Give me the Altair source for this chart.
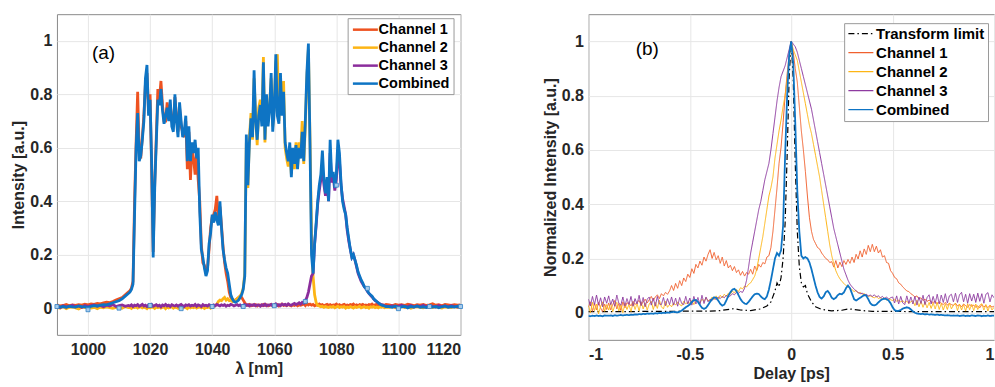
import altair as alt
import pandas as pd

# ---------------- Panel (a): spectra ----------------
# wavelength grid (nm): 1 nm steps on the flat wings, 0.5 nm in the active band
WL_LO = list(range(990, 1014))                       # 24 points
WL_MID = [1013.5 + 0.5 * i for i in range(166)]      # 1013.5 .. 1096
WL_HI = list(range(1097, 1121))                      # 24 points
WL = WL_LO + WL_MID + WL_HI

SERIES_A = ["Channel 1", "Channel 2", "Channel 3", "Combined"]
COLORS_A = ["#EE5220", "#FDB515", "#8B2D9C", "#0E74C4"]

comb_a = [
    0.008, 0.004, 0.006, 0.003, 0.007, 0.005, 0.004, 0.008, 0.006, 0.005,
    0.003, 0.007, 0.009, 0.008, 0.011, 0.013, 0.012, 0.016, 0.02, 0.024,
    0.028, 0.035, 0.045, 0.055,
    # 1013.5 ..
    0.06, 0.07, 0.09, 0.35, 0.60, 0.73, 0.55, 0.57, 0.63, 0.70,
    0.86, 0.91, 0.72, 0.78, 0.55, 0.19, 0.45, 0.62, 0.78, 0.76,
    0.82, 0.74, 0.69, 0.72, 0.75, 0.70, 0.78, 0.68, 0.66, 0.80,
    0.70, 0.64, 0.77, 0.70, 0.64, 0.66, 0.72, 0.55, 0.68, 0.55,
    0.62, 0.58, 0.63, 0.56, 0.60, 0.36, 0.22, 0.19, 0.15, 0.12,
    0.14, 0.24, 0.28, 0.35, 0.32, 0.36, 0.33, 0.31, 0.40, 0.30,
    0.22, 0.18, 0.15, 0.13, 0.09, 0.05, 0.035, 0.025, 0.022, 0.025,
    0.03, 0.04, 0.05, 0.07, 0.12, 0.65, 0.46, 0.62, 0.71, 0.64,
    0.89, 0.70, 0.63, 0.72, 0.76, 0.68, 0.92, 0.63, 0.80, 0.68,
    0.74, 0.88, 0.66, 0.74, 0.95, 0.72, 0.69, 0.88, 0.72, 0.81,
    0.62, 0.58, 0.55, 0.62, 0.49, 0.60, 0.54, 0.61, 0.52, 0.60,
    0.56, 0.66, 0.55, 0.70, 0.88, 0.99, 0.62, 0.20, 0.13, 0.24,
    0.32, 0.40, 0.46, 0.50, 0.59, 0.48, 0.43, 0.49, 0.40, 0.63,
    0.49, 0.51, 0.45, 0.50, 0.63, 0.58, 0.47, 0.40, 0.37, 0.35,
    0.30, 0.26, 0.22, 0.19, 0.20, 0.18, 0.16, 0.135, 0.12, 0.105,
    0.095, 0.08, 0.075, 0.065, 0.055, 0.05, 0.045, 0.035, 0.03, 0.025,
    0.02, 0.015, 0.012, 0.01, 0.008, 0.006,
    # 1097 ..
    0.006, 0.003, 0.008, 0.002, 0.005, 0.007, 0.001, 0.006, 0.004, 0.008,
    0.003, 0.005, 0.002, 0.007, 0.004, 0.006, 0.001, 0.005, 0.008, 0.003,
    0.006, 0.004, 0.007, 0.005,
]

ch1_a = [
    0.012, 0.008, 0.01, 0.014, 0.009, 0.012, 0.01, 0.013, 0.011, 0.015,
    0.012, 0.016, 0.014, 0.018, 0.016, 0.02, 0.022, 0.021, 0.025, 0.03,
    0.035, 0.04, 0.05, 0.06,
    0.065, 0.075, 0.10, 0.40, 0.62, 0.81, 0.58, 0.56, 0.64, 0.72,
    0.84, 0.88, 0.74, 0.80, 0.52, 0.21, 0.47, 0.64, 0.82, 0.78,
    0.85, 0.76, 0.70, 0.70, 0.77, 0.72, 0.76, 0.70, 0.68, 0.79,
    0.72, 0.66, 0.75, 0.68, 0.66, 0.64, 0.70, 0.52, 0.66, 0.48,
    0.60, 0.56, 0.50, 0.58, 0.48, 0.40, 0.24, 0.17, 0.16, 0.13,
    0.15, 0.22, 0.30, 0.34, 0.35, 0.37, 0.42, 0.33, 0.38, 0.31,
    0.23, 0.17, 0.13, 0.10, 0.06, 0.04, 0.03, 0.028, 0.03, 0.035,
    0.04, 0.045, 0.04, 0.03, 0.02, 0.012, 0.01, 0.014, 0.009, 0.012,
    0.01, 0.013, 0.008, 0.012, 0.011, 0.009, 0.014, 0.01, 0.012, 0.008,
    0.011, 0.014, 0.009, 0.012, 0.01, 0.013, 0.008, 0.011, 0.015, 0.01,
    0.012, 0.009, 0.013, 0.011, 0.008, 0.012, 0.01, 0.014, 0.009, 0.012,
    0.011, 0.013, 0.016, 0.01, 0.018, 0.012, 0.015, 0.011, 0.014, 0.009,
    0.012, 0.01, 0.015, 0.011, 0.013, 0.008, 0.012, 0.014, 0.01, 0.013,
    0.009, 0.012, 0.011, 0.015, 0.01, 0.013, 0.008, 0.012, 0.014, 0.01,
    0.012, 0.009, 0.013, 0.011, 0.015, 0.01, 0.012, 0.008, 0.013, 0.011,
    0.014, 0.01, 0.012, 0.009, 0.013, 0.011, 0.015, 0.01, 0.012, 0.014,
    0.01, 0.013, 0.009, 0.012, 0.011, 0.014,
    0.012, 0.009, 0.014, 0.011, 0.013, 0.01, 0.015, 0.012, 0.009, 0.013,
    0.011, 0.014, 0.01, 0.012, 0.016, 0.011, 0.013, 0.009, 0.014, 0.012,
    0.01, 0.013, 0.011, 0.012,
]

ch2_a = [
    0.004, 0.0, 0.006, -0.002, 0.003, 0.005, 0.001, -0.003, 0.004, 0.002,
    0.006, 0.0, 0.003, -0.002, 0.004, 0.001, 0.005, 0.002, -0.001, 0.003,
    0.004, 0.0, 0.006, 0.002,
    0.003, -0.001, 0.004, 0.002, 0.005, 0.0, 0.003, 0.006, 0.001, 0.004,
    0.002, -0.002, 0.004, 0.001, 0.005, 0.003, -0.001, 0.004, 0.002, 0.006,
    0.0, 0.003, 0.005, -0.002, 0.004, 0.001, 0.003, 0.006, 0.0, 0.004,
    0.002, -0.001, 0.005, 0.003, 0.0, 0.004, 0.002, -0.002, 0.005, 0.001,
    0.004, 0.002, 0.006, 0.0, 0.003, 0.005, 0.001, 0.004, -0.001, 0.003,
    0.002, 0.005, 0.0, 0.004, 0.006, 0.01, 0.015, 0.025, 0.03, 0.028,
    0.035, 0.04, 0.03, 0.035, 0.028, 0.03, 0.025, 0.03, 0.028, 0.035,
    0.04, 0.045, 0.055, 0.075, 0.13, 0.62, 0.45, 0.64, 0.73, 0.63,
    0.86, 0.72, 0.61, 0.75, 0.78, 0.70, 0.94, 0.62, 0.78, 0.70,
    0.76, 0.86, 0.68, 0.76, 0.92, 0.95, 0.70, 0.86, 0.75, 0.85,
    0.60, 0.56, 0.53, 0.60, 0.50, 0.58, 0.52, 0.62, 0.53, 0.62,
    0.58, 0.70, 0.54, 0.68, 0.86, 0.97, 0.64, 0.28, 0.12, 0.05,
    0.02, 0.01, 0.008, 0.005, 0.007, 0.003, 0.006, 0.004, 0.002, 0.005,
    0.003, 0.006, 0.001, 0.004, 0.007, 0.002, 0.005, 0.003, 0.006, 0.0,
    0.004, 0.002, 0.006, 0.003, 0.0, 0.005, 0.002, 0.004, 0.007, 0.001,
    0.003, 0.006, 0.002, 0.004, 0.0, 0.005, 0.003, 0.006, 0.002, 0.004,
    0.001, 0.005, 0.003, 0.006, 0.002, 0.004,
    0.003, 0.006, 0.001, 0.004, 0.007, 0.002, 0.005, 0.0, 0.004, 0.006,
    0.003, 0.001, 0.005, 0.004, 0.002, 0.006, 0.003, 0.0, 0.005, 0.004,
    0.002, 0.006, 0.003, 0.004,
]

ch3_a = [
    0.006, 0.002, 0.009, 0.004, 0.007, 0.011, 0.005, 0.008, 0.003, 0.01,
    0.006, 0.009, 0.012, 0.007, 0.01, 0.005, 0.011, 0.008, 0.013, 0.006,
    0.009, 0.012, 0.007, 0.01,
    0.008, 0.012, 0.006, 0.011, 0.009, 0.013, 0.007, 0.01, 0.014, 0.008,
    0.011, 0.006, 0.012, 0.009, 0.014, 0.007, 0.01, 0.013, 0.008, 0.011,
    0.005, 0.012, 0.009, 0.014, 0.008, 0.011, 0.006, 0.013, 0.01, 0.008,
    0.012, 0.007, 0.011, 0.014, 0.009, 0.006, 0.012, 0.01, 0.013, 0.008,
    0.011, 0.009, 0.014, 0.007, 0.012, 0.01, 0.006, 0.013, 0.009, 0.011,
    0.008, 0.013, 0.01, 0.007, 0.012, 0.009, 0.014, 0.011, 0.008, 0.012,
    0.01, 0.013, 0.007, 0.011, 0.009, 0.014, 0.012, 0.008, 0.011, 0.013,
    0.009, 0.012, 0.007, 0.011, 0.014, 0.01, 0.013, 0.008, 0.012, 0.01,
    0.014, 0.009, 0.012, 0.011, 0.007, 0.013, 0.01, 0.015, 0.009, 0.012,
    0.011, 0.014, 0.008, 0.012, 0.016, 0.01, 0.013, 0.009, 0.015, 0.012,
    0.014, 0.01, 0.016, 0.012, 0.011, 0.015, 0.018, 0.013, 0.016, 0.02,
    0.015, 0.022, 0.018, 0.028, 0.04, 0.06, 0.09, 0.12, 0.13, 0.24,
    0.31, 0.39, 0.44, 0.48, 0.52, 0.46, 0.42, 0.47, 0.40, 0.58,
    0.47, 0.49, 0.44, 0.48, 0.58, 0.55, 0.46, 0.41, 0.38, 0.35,
    0.29, 0.25, 0.22, 0.19, 0.20, 0.18, 0.155, 0.13, 0.115, 0.10,
    0.09, 0.08, 0.073, 0.062, 0.055, 0.048, 0.042, 0.035, 0.028, 0.024,
    0.02, 0.016, 0.013, 0.011, 0.009, 0.007,
    0.006, 0.009, 0.004, 0.008, 0.011, 0.005, 0.007, 0.01, 0.004, 0.008,
    0.006, 0.011, 0.005, 0.009, 0.007, 0.004, 0.01, 0.006, 0.008, 0.005,
    0.009, 0.007, 0.004, 0.008,
]

# small square markers along the traces
MARK_WL = [990, 1000, 1010, 1020, 1030, 1040, 1050, 1060, 1070, 1080, 1090, 1100, 1110, 1120]
MARK_VAL = [0.006, -0.006, 0.0, 0.01, -0.002, 0.006, 0.006, 0.009, 0.025, 0.46, 0.074, -0.002, 0.006, 0.006]

# ---------------- Panel (b): autocorrelation ----------------
T = [round(-1 + 0.01 * i, 2) for i in range(201)]
SERIES_B = ["Transform limit", "Channel 1", "Channel 2", "Channel 3", "Combined"]
COLORS_B = ["#000000", "#F0602E", "#FDB515", "#8E3BA0", "#0E74C4"]

TL_T = [-1, -0.9, -0.8, -0.7, -0.6, -0.5, -0.4, -0.35, -0.3, -0.28, -0.25, -0.2, -0.15,
        -0.12, -0.1, -0.08, -0.07, -0.06, -0.05, -0.04, -0.03, -0.02, -0.01, 0,
        0.01, 0.02, 0.03, 0.04, 0.05, 0.06, 0.07, 0.08, 0.1, 0.12, 0.15, 0.2, 0.25,
        0.28, 0.3, 0.35, 0.4, 0.5, 0.6, 0.7, 0.8, 0.9, 1.0]
TL_VAL = [0.004, 0.004, 0.004, 0.005, 0.005, 0.006, 0.006, 0.008, 0.013, 0.015, 0.01, 0.008, 0.014,
          0.025, 0.04, 0.08, 0.11, 0.095, 0.13, 0.2, 0.33, 0.58, 0.87, 1.0,
          0.86, 0.55, 0.3, 0.17, 0.11, 0.095, 0.1, 0.07, 0.04, 0.022, 0.012, 0.007, 0.009,
          0.014, 0.013, 0.008, 0.005, 0.005, 0.004, 0.004, 0.004, 0.004, 0.004]

ch1_b = [
    0.022, 0.04, 0.005, 0.035, 0.01, 0.038, 0.018, 0.004, 0.032, 0.012,
    0.036, 0.01, 0.03, 0.045, 0.014, 0.034, 0.008, 0.04, 0.018, 0.036,
    0.035, 0.025, 0.042, 0.03, 0.038, 0.045, 0.028, 0.04, 0.05, 0.036,
    0.048, 0.06, 0.045, 0.058, 0.066, 0.052, 0.07, 0.062, 0.075, 0.068,
    0.08, 0.1, 0.082, 0.108, 0.09, 0.118, 0.1, 0.128, 0.115, 0.142,
    0.13, 0.162, 0.145, 0.178, 0.165, 0.19, 0.175, 0.205, 0.19, 0.215,
    0.232, 0.2, 0.222, 0.195, 0.21, 0.182, 0.205, 0.172, 0.192, 0.165,
    0.175, 0.155, 0.17, 0.148, 0.158, 0.138, 0.152, 0.135, 0.148, 0.142,
    0.16, 0.142, 0.172, 0.155, 0.178, 0.168, 0.185, 0.18, 0.205, 0.21,
    0.24, 0.30, 0.38, 0.46, 0.55, 0.61, 0.70, 0.80, 0.88, 0.95,
    1.0, 0.96, 0.90, 0.85, 0.76, 0.67, 0.60, 0.52, 0.43, 0.35,
    0.3, 0.27, 0.255, 0.24, 0.235, 0.22, 0.21, 0.2, 0.195, 0.185,
    0.188, 0.168, 0.192, 0.165, 0.186, 0.17, 0.192, 0.178, 0.196, 0.182,
    0.205, 0.185, 0.215, 0.198, 0.228, 0.205, 0.235, 0.215, 0.248, 0.225,
    0.252, 0.225, 0.245, 0.22, 0.232, 0.205, 0.21, 0.185, 0.182, 0.155,
    0.145, 0.13, 0.125, 0.11, 0.105, 0.095, 0.088, 0.08, 0.078, 0.07,
    0.065, 0.058, 0.062, 0.05, 0.055, 0.045, 0.05, 0.042, 0.046, 0.04,
    0.038, 0.042, 0.032, 0.04, 0.035, 0.03, 0.038, 0.028, 0.034, 0.03,
    0.027, 0.035, 0.025, 0.03, 0.022, 0.032, 0.026, 0.02, 0.03, 0.024,
    0.028, 0.02, 0.025, 0.018, 0.03, 0.022, 0.026, 0.019, 0.027, 0.021,
    0.024,
]

ch2_b = [
    0.025, 0.0, 0.038, 0.008, 0.032, -0.004, 0.022, 0.04, 0.005, 0.03,
    0.01, 0.036, 0.004, 0.026, 0.038, 0.006, 0.03, 0.0, 0.034, 0.012,
    0.03, 0.004, 0.038, 0.012, 0.034, 0.006, 0.04, 0.014, 0.036, 0.01,
    0.032, 0.042, 0.012, 0.038, 0.016, 0.046, 0.022, 0.014, 0.042, 0.02,
    0.03, 0.022, 0.036, 0.028, 0.04, 0.03, 0.025, 0.042, 0.033, 0.038,
    0.035, 0.045, 0.03, 0.048, 0.04, 0.036, 0.05, 0.042, 0.055, 0.045,
    0.045, 0.058, 0.048, 0.062, 0.05, 0.064, 0.055, 0.068, 0.06, 0.072,
    0.068, 0.08, 0.072, 0.086, 0.078, 0.092, 0.088, 0.098, 0.095, 0.105,
    0.11, 0.122, 0.135, 0.16, 0.2, 0.24, 0.28, 0.33, 0.38, 0.43,
    0.46, 0.5, 0.57, 0.62, 0.67, 0.71, 0.76, 0.8, 0.86, 0.93,
    1.0, 0.97, 0.95, 0.93, 0.89, 0.85, 0.81, 0.77, 0.73, 0.69,
    0.66, 0.62, 0.58, 0.54, 0.5, 0.45, 0.4, 0.35, 0.3, 0.25,
    0.21, 0.18, 0.155, 0.138, 0.125, 0.115, 0.108, 0.1, 0.095, 0.09,
    0.085, 0.078, 0.082, 0.072, 0.075, 0.068, 0.07, 0.065, 0.06, 0.062,
    0.058, 0.055, 0.06, 0.052, 0.056, 0.05, 0.054, 0.047, 0.05, 0.048,
    0.045, 0.05, 0.042, 0.046, 0.04, 0.044, 0.038, 0.042, 0.035, 0.04,
    0.044, 0.026, 0.046, 0.022, 0.042, 0.02, 0.04, 0.018, 0.038, 0.016,
    0.036, 0.014, 0.038, 0.012, 0.034, 0.01, 0.033, 0.012, 0.036, 0.014,
    0.028, 0.034, 0.008, 0.032, 0.01, 0.03, 0.006, 0.033, 0.011, 0.031,
    0.008, 0.032, 0.012, 0.028, 0.033, 0.01, 0.03, 0.006, 0.028, 0.01,
    0.02,
]

ch3_b = [
    0.05, 0.025, 0.06, 0.03, 0.065, 0.028, 0.055, 0.022, 0.058, 0.035,
    0.062, 0.03, 0.05, 0.024, 0.065, 0.035, 0.028, 0.058, 0.025, 0.052,
    0.03, 0.06, 0.024, 0.052, 0.032, 0.064, 0.026, 0.056, 0.022, 0.05,
    0.058, 0.028, 0.054, 0.024, 0.06, 0.032, 0.03, 0.056, 0.026, 0.052,
    0.03, 0.058, 0.028, 0.054, 0.024, 0.056, 0.034, 0.03, 0.06, 0.032,
    0.054, 0.028, 0.06, 0.032, 0.056, 0.03, 0.064, 0.034, 0.058, 0.04,
    0.05, 0.045, 0.055, 0.048, 0.058, 0.052, 0.06, 0.055, 0.064, 0.058,
    0.062, 0.07, 0.066, 0.075, 0.072, 0.078, 0.075, 0.09, 0.12, 0.17,
    0.22, 0.26, 0.3, 0.34, 0.38, 0.41, 0.45, 0.49, 0.52, 0.55,
    0.6, 0.66, 0.72, 0.78, 0.83, 0.87, 0.89, 0.91, 0.94, 0.97,
    1.0, 0.99, 0.98, 0.96, 0.93, 0.9, 0.87, 0.84, 0.81, 0.78,
    0.75, 0.71, 0.67, 0.63, 0.59, 0.55, 0.51, 0.47, 0.43, 0.39,
    0.35, 0.31, 0.28, 0.25, 0.22, 0.19, 0.16, 0.14, 0.12, 0.105,
    0.095, 0.088, 0.08, 0.075, 0.07, 0.072, 0.066, 0.068, 0.062, 0.065,
    0.06, 0.066, 0.058, 0.062, 0.055, 0.06, 0.052, 0.058, 0.05, 0.055,
    0.058, 0.036, 0.062, 0.032, 0.06, 0.036, 0.03, 0.062, 0.034, 0.058,
    0.032, 0.06, 0.028, 0.058, 0.034, 0.064, 0.03, 0.056, 0.066, 0.032,
    0.06, 0.034, 0.068, 0.032, 0.065, 0.038, 0.07, 0.036, 0.062, 0.068,
    0.04, 0.072, 0.038, 0.066, 0.075, 0.04, 0.068, 0.035, 0.07, 0.043,
    0.068, 0.038, 0.072, 0.042, 0.07, 0.035, 0.068, 0.074, 0.04, 0.066,
    0.055,
]

comb_b = [
    -0.012, -0.013, -0.011, -0.012, -0.01, -0.012, -0.011, -0.013, -0.01, -0.011,
    -0.011, -0.01, -0.012, -0.009, -0.011, -0.01, -0.008, -0.01, -0.009, -0.008,
    -0.009, -0.007, -0.008, -0.006, -0.007, -0.005, -0.006, -0.004, -0.005, -0.003,
    -0.004, -0.003, -0.004, -0.002, -0.003, -0.001, -0.002, 0.0, -0.001, 0.001,
    0.0, 0.002, 0.003, 0.002, 0.001, 0.004, 0.008, 0.014, 0.02, 0.025,
    0.03, 0.04, 0.046, 0.047, 0.04, 0.028, 0.018, 0.014, 0.018, 0.028,
    0.04, 0.05, 0.057, 0.055, 0.045, 0.033, 0.026, 0.03, 0.045, 0.062,
    0.075, 0.085, 0.088, 0.08, 0.065, 0.05, 0.04, 0.034, 0.032, 0.04,
    0.05, 0.06, 0.068, 0.07, 0.069, 0.06, 0.053, 0.05, 0.06, 0.085,
    0.12, 0.16, 0.2, 0.22, 0.21, 0.23, 0.32, 0.58, 0.8, 0.95,
    1.0, 0.92, 0.7, 0.45, 0.3, 0.21, 0.2, 0.205, 0.2, 0.185,
    0.16, 0.13, 0.1, 0.075, 0.058, 0.052, 0.06, 0.075, 0.08, 0.07,
    0.055, 0.05, 0.055, 0.065, 0.07, 0.068, 0.075, 0.09, 0.1, 0.09,
    0.07, 0.05, 0.045, 0.05, 0.055, 0.06, 0.065, 0.063, 0.05, 0.035,
    0.028, 0.027, 0.03, 0.038, 0.045, 0.05, 0.052, 0.05, 0.045, 0.035,
    0.02, 0.01, 0.006, 0.007, 0.01, 0.015, 0.018, 0.02, 0.018, 0.012,
    0.005, 0.0, -0.003, -0.004, -0.005, -0.004, -0.006, -0.005, -0.007, -0.006,
    -0.007, -0.008, -0.007, -0.009, -0.008, -0.009, -0.01, -0.009, -0.01, -0.011,
    -0.01, -0.011, -0.01, -0.012, -0.011, -0.01, -0.012, -0.011, -0.012, -0.01,
    -0.011, -0.012, -0.01, -0.011, -0.013, -0.011, -0.012, -0.01, -0.012, -0.011,
    -0.011,
]

PANEL_LABELS = ["(a)", "(b)"]
LABEL_POS_A = (1005, 0.955)
LABEL_POS_B = (-0.71, 0.97)

# ---------------- build tables ----------------
rows_a = []
for name, vals in zip(SERIES_A, [ch1_a, ch2_a, ch3_a, comb_a]):
    for x, v in zip(WL, vals):
        rows_a.append({"wl": x, "val": v, "series": name})
df_a = pd.DataFrame(rows_a)
df_mark = pd.DataFrame({"wl": MARK_WL, "val": MARK_VAL})

rows_b = []
for x, v in zip(TL_T, TL_VAL):
    rows_b.append({"t": x, "val": v, "series": "Transform limit"})
for name, vals in zip(SERIES_B[1:], [ch1_b, ch2_b, ch3_b, comb_b]):
    for x, v in zip(T, vals):
        rows_b.append({"t": x, "val": v, "series": name})
df_b = pd.DataFrame(rows_b)

FONT = "Liberation Sans"
# legend line glyph: a horizontal stroke from -1 to 3 (in symbol units)
LEG_LINE = "M-1,0H3"

# ---------------- panel (a) ----------------
xa = alt.X("wl:Q", scale=alt.Scale(domain=[990, 1120], nice=False, zero=False),
           axis=alt.Axis(values=[1000, 1020, 1040, 1060, 1080, 1100, 1120], title="λ [nm]",
                         labelExpr="'' + datum.value", labelPadding=7, titlePadding=3))
ya = alt.Y("val:Q", scale=alt.Scale(domain=[-0.1, 1.1], nice=False, zero=False),
           axis=alt.Axis(values=[0, 0.2, 0.4, 0.6, 0.8, 1], title="Intensity [a.u.]",
                         labelExpr="'' + datum.value", labelPadding=5, titlePadding=3))
legend_a = alt.Legend(orient="none", legendX=291, legendY=4, title=None,
                      symbolType=LEG_LINE, symbolSize=156, symbolStrokeWidth=2.5,
                      labelFont=FONT, labelFontSize=14.5, labelFontWeight="bold",
                      labelColor="#000000", labelLimit=300, strokeColor="#9a9a9a",
                      fillColor="#ffffff", padding=4, rowPadding=3, labelOffset=12)
color_a = alt.Color("series:N", scale=alt.Scale(domain=SERIES_A, range=COLORS_A), legend=legend_a)

layers_a = []
for s in SERIES_A:
    layers_a.append(
        alt.Chart(df_a).transform_filter(alt.datum.series == s)
        .mark_line(strokeWidth=2.8, clip=True)
        .encode(x=xa, y=ya, color=color_a, order=alt.Order("wl:Q"))
    )
marks_a = alt.Chart(df_mark).mark_point(shape="square", filled=True, size=16, fill="#a6cbec",
                                        stroke="#2f7fc4", strokeWidth=0.8, opacity=1).encode(x=xa, y=ya)
lab_a = alt.Chart(pd.DataFrame({"wl": [LABEL_POS_A[0]], "val": [LABEL_POS_A[1]], "txt": [PANEL_LABELS[0]]})) \
    .mark_text(font=FONT, fontSize=19, color="#000000").encode(x=xa, y=ya, text="txt:N")
panel_a = alt.layer(*layers_a, marks_a, lab_a).properties(width=404, height=321)

# ---------------- panel (b) ----------------
xb = alt.X("t:Q", scale=alt.Scale(domain=[-1, 1], nice=False, zero=False),
           axis=alt.Axis(values=[-1, -0.5, 0, 0.5, 1], title="Delay [ps]",
                         labelExpr="'' + datum.value", labelPadding=7, titlePadding=3))
yb = alt.Y("val:Q", scale=alt.Scale(domain=[-0.1, 1.1], nice=False, zero=False),
           axis=alt.Axis(values=[0, 0.2, 0.4, 0.6, 0.8, 1], title="Normalized Intensity [a.u.]",
                         labelExpr="'' + datum.value", labelPadding=5, titlePadding=3))
legend_b = alt.Legend(orient="none", legendX=256, legendY=9, title=None,
                      symbolType=LEG_LINE, symbolSize=156, symbolStrokeWidth=1.3,
                      labelFont=FONT, labelFontSize=15, labelFontWeight="bold",
                      labelColor="#000000", labelLimit=300, strokeColor="#9a9a9a",
                      fillColor="#ffffff", padding=3, rowPadding=3, labelOffset=14)
color_b = alt.Color("series:N", scale=alt.Scale(domain=SERIES_B, range=COLORS_B), legend=legend_b)
dash_b = alt.StrokeDash("series:N", scale=alt.Scale(domain=SERIES_B,
                        range=[[6, 3, 1.5, 3], [1, 0], [1, 0], [1, 0], [1, 0]]), legend=legend_b)
widths_b = {"Transform limit": 1.2, "Channel 1": 1.0, "Channel 2": 1.0, "Channel 3": 1.0, "Combined": 1.8}

layers_b = []
for s in SERIES_B:
    layers_b.append(
        alt.Chart(df_b).transform_filter(alt.datum.series == s)
        .mark_line(strokeWidth=widths_b[s], clip=True)
        .encode(x=xb, y=yb, color=color_b, strokeDash=dash_b, order=alt.Order("t:Q"))
    )
lab_b = alt.Chart(pd.DataFrame({"t": [LABEL_POS_B[0]], "val": [LABEL_POS_B[1]], "txt": [PANEL_LABELS[1]]})) \
    .mark_text(font=FONT, fontSize=19, color="#000000").encode(x=xb, y=yb, text="txt:N")
panel_b = alt.layer(*layers_b, lab_b).properties(width=406, height=326)

chart = alt.hconcat(panel_a, panel_b, spacing=128, bounds="flush") \
    .resolve_scale(color="independent", strokeDash="independent") \
    .properties(padding={"left": 10, "top": 13, "right": 0, "bottom": 0}) \
    .configure(font=FONT, background="#ffffff") \
    .configure_view(stroke="#8a8a8a", strokeWidth=1) \
    .configure_axis(grid=True, gridColor="#e6e6e6", gridWidth=1, domain=False, ticks=False,
                    labelFont=FONT, labelFontSize=16, labelFontWeight="bold", labelColor="#262626",
                    titleFont=FONT, titleFontSize=16, titleFontWeight="bold", titleColor="#262626")

chart.save("out.html", embed_options={"renderer": "svg", "actions": False})
